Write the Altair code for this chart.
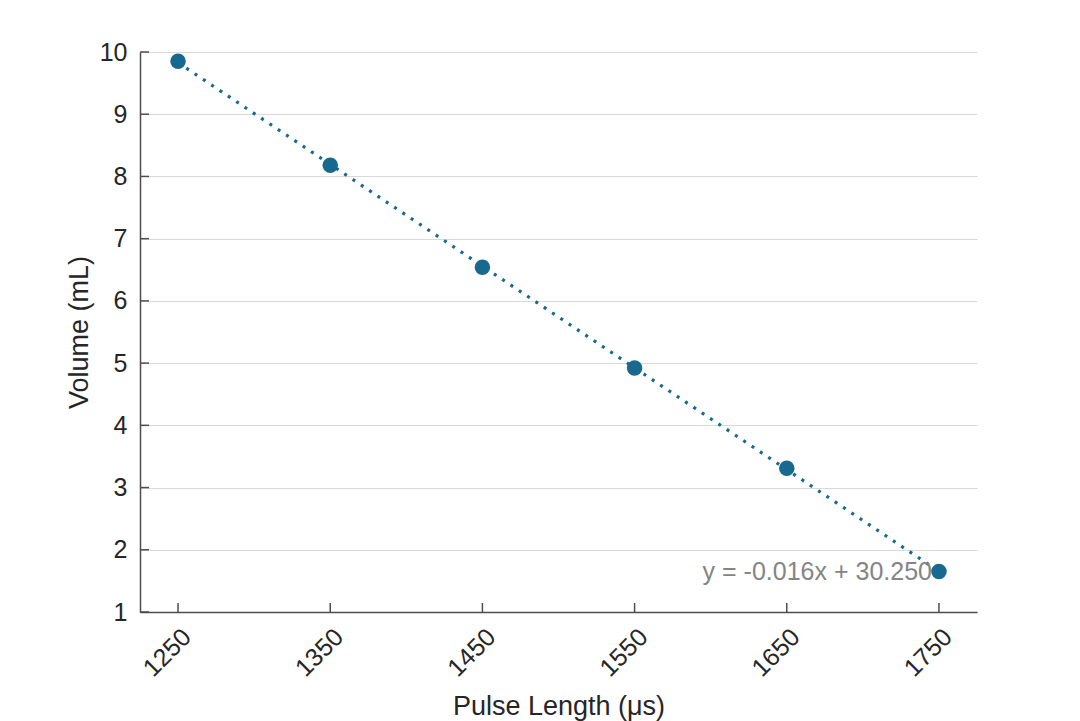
import altair as alt
import pandas as pd

pulse = [1250, 1350, 1450, 1550, 1650, 1750]
volume = [9.85, 8.18, 6.54, 4.92, 3.31, 1.65]
x_ticks = [1250, 1350, 1450, 1550, 1650, 1750]
y_ticks = [1, 2, 3, 4, 5, 6, 7, 8, 9, 10]
equation = "y = -0.016x + 30.250"

COLOR = "#17698e"
FONT = "Liberation Sans"
W, H = 837, 560

df = pd.DataFrame({"pulse": pulse, "volume": volume})
lab = pd.DataFrame({"pulse": [pulse[-1]], "volume": [volume[-1]], "t": [equation]})
xt = pd.DataFrame({"v": x_ticks})
yt = pd.DataFrame({"v": y_ticks})

xscale = alt.Scale(domain=[1225, 1775], nice=False, zero=False)
yscale = alt.Scale(domain=[1, 10], nice=False, zero=False)

xenc = alt.X("pulse:Q", scale=xscale,
             axis=alt.Axis(title="Pulse Length (μs)", values=x_ticks, labelAngle=315,
                           ticks=False, grid=False, format="d", labelPadding=12,
                           titlePadding=12, labelFontSize=25, titleFontSize=27))
yenc = alt.Y("volume:Q", scale=yscale,
             axis=alt.Axis(title="Volume (mL)", values=y_ticks, ticks=False, grid=True,
                           format="d", labelPadding=13, titlePadding=6,
                           labelFontSize=25, titleFontSize=27))

base = alt.Chart(df)

fit = base.transform_regression("pulse", "volume").mark_line(
    color=COLOR, strokeWidth=3.2, strokeDash=[3, 7]
).encode(x=xenc, y=yenc)

pts = base.mark_circle(size=240, color=COLOR, opacity=1).encode(x="pulse:Q", y="volume:Q")

txt = alt.Chart(lab).mark_text(align="right", baseline="middle", dx=-7, fontSize=25,
                               font=FONT, color="#858585").encode(
    x="pulse:Q", y="volume:Q", text="t:N")

ytick = alt.Chart(yt).mark_rule(color="#4d4d4d", strokeWidth=1.5).encode(
    y=alt.Y("v:Q", scale=yscale), x=alt.value(0), x2=alt.value(9))
xtick = alt.Chart(xt).mark_rule(color="#4d4d4d", strokeWidth=1.5).encode(
    x=alt.X("v:Q", scale=xscale), y=alt.value(H), y2=alt.value(H - 9))

chart = alt.layer(fit, ytick, xtick, pts, txt).properties(
    width=W, height=H, autosize=alt.AutoSizeParams(type="none"),
    padding={"left": 132, "top": 44, "right": 95, "bottom": 109},
).configure_view(stroke=None).configure_axis(
    labelFont=FONT, titleFont=FONT,
    labelColor="#262626", titleColor="#262626", titleFontWeight="normal",
    domainColor="#4d4d4d", domainWidth=1.5, gridColor="#d9d9d9", gridWidth=1.2,
)

chart.save("out.html", embed_options={"renderer": "svg", "actions": False})
